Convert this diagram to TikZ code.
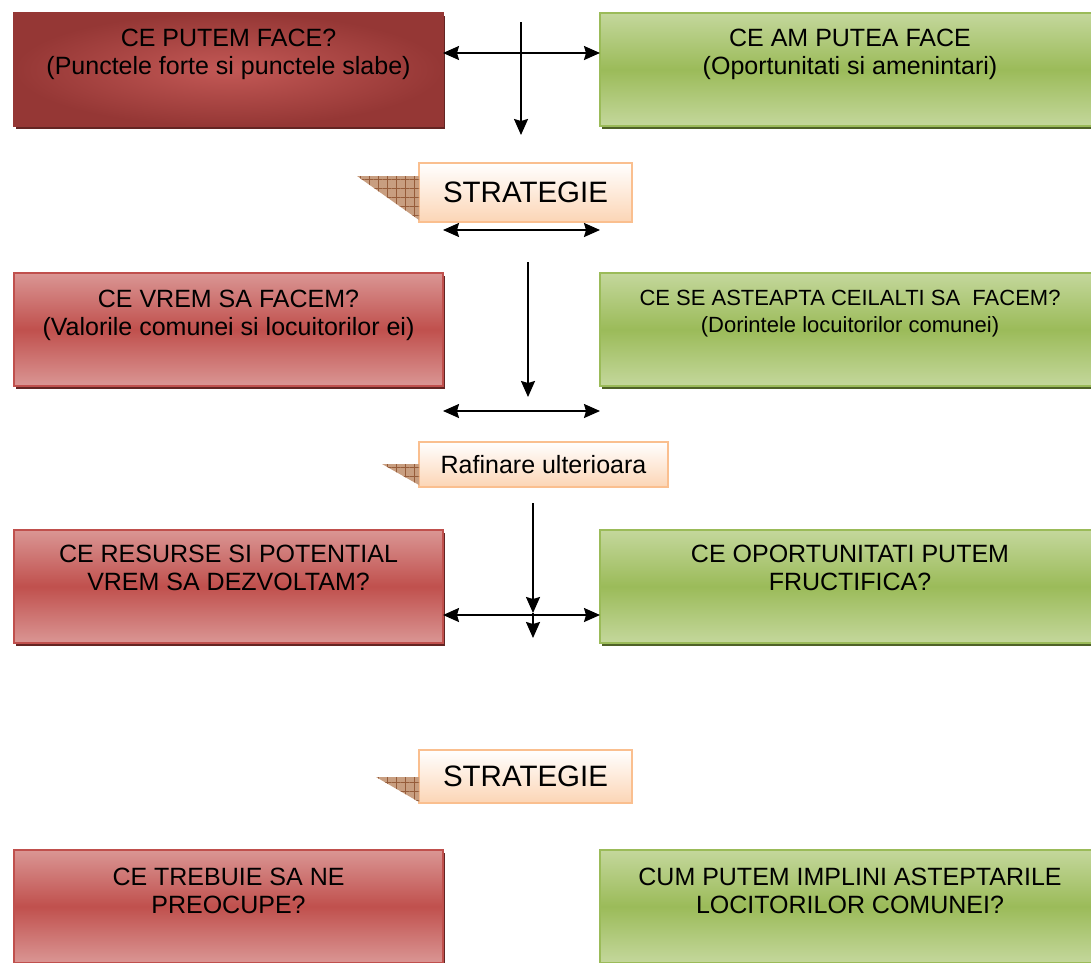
\documentclass[tikz,border=0pt]{standalone}
\usepackage{fontspec}
\setmainfont{Liberation Sans}
\usetikzlibrary{arrows.meta, positioning, calc, shadows, patterns.meta}

\definecolor{redDark}{RGB}{149,55,53}
\definecolor{redMid}{RGB}{192,80,77}
\definecolor{redLight}{RGB}{218,150,148}
\definecolor{redShadow}{RGB}{99,37,35}
\definecolor{greenMid}{RGB}{155,187,89}
\definecolor{greenLight}{RGB}{196,215,156}
\definecolor{greenShadow}{RGB}{79,98,40}
\definecolor{peachBorder}{RGB}{250,191,143}
\definecolor{peachFill}{RGB}{252,213,181}
\definecolor{tabFill}{RGB}{200,158,128}
\definecolor{tabLine}{RGB}{150,92,58}

\tikzstyle{question} = [rectangle, minimum height=113pt, inner sep=0pt, outer sep=0pt, line width=1.2pt]
\tikzstyle{redbox} = [question, minimum width=429pt, draw=redMid, top color=redLight, bottom color=redLight, middle color=redMid, drop shadow={shadow xshift=2pt, shadow yshift=-3pt, fill=redShadow, opacity=1}]
\tikzstyle{darkredbox} = [question, minimum width=429pt, draw=redDark, inner color=redMid!95!white, outer color=redDark, drop shadow={shadow xshift=2pt, shadow yshift=-3pt, fill=redShadow, opacity=1}]
\tikzstyle{greenbox} = [question, minimum width=500pt, draw=greenMid, top color=greenLight, bottom color=greenLight, middle color=greenMid, drop shadow={shadow xshift=2pt, shadow yshift=-3pt, fill=greenShadow, opacity=1}]
\tikzstyle{boxtext} = [align=center, anchor=north, inner sep=0pt, font=\fontsize{25}{28}\selectfont]
\tikzstyle{strategy} = [rectangle, draw=peachBorder, line width=1.5pt, top color=white, bottom color=peachFill, inner sep=0pt, outer sep=0pt]
\tikzstyle{tab} = [pattern={Hatch[angle=0, distance=9pt, line width=0.6pt]}, pattern color=tabLine, preaction={fill=tabFill}]
\tikzstyle{link} = [line width=1.8pt]
\tikzstyle{both} = [link, {Stealth[length=16pt, width=14pt, inset=2pt]}-{Stealth[length=16pt, width=14pt, inset=2pt]}]
\tikzstyle{down} = [link, -{Stealth[length=16pt, width=14pt, inset=2pt]}]

\begin{document}
\begin{tikzpicture}[x=1pt, y=-1pt]
    \useasboundingbox (0, 0) rectangle (1091, 962);

    % Left column.
    \node (p1) [darkredbox] at (228.5, 69.5) {};
    \node (p2) [redbox] at (228.5, 329.5) {};
    \node (p3) [redbox] at (228.5, 586.5) {};
    \node (p4) [redbox] at (228.5, 906.5) {};

    \node (p1 text) [boxtext, below=16pt of p1.north] {CE PUTEM FACE?\\(Punctele forte si punctele slabe)};
    \node (p2 text) [boxtext, below=17pt of p2.north] {CE VREM SA FACEM?\\(Valorile comunei si locuitorilor ei)};
    \node (p3 text) [boxtext, below=15pt of p3.north] {CE RESURSE SI POTENTIAL\\VREM SA DEZVOLTAM?};
    \node (p4 text) [boxtext, below=18pt of p4.north] {CE TREBUIE SA NE\\PREOCUPE?};

    % Right column.
    \node (o1) [greenbox] at (850, 69.5) {};
    \node (o2) [greenbox] at (850, 329.5) {};
    \node (o3) [greenbox] at (850, 586.5) {};
    \node (o4) [greenbox] at (850, 906.5) {};

    \node (o1 text) [boxtext, below=16pt of o1.north] {CE AM PUTEA FACE\\(Oportunitati si amenintari)};
    \node (o2 text) [boxtext, below=17pt of o2.north, font=\fontsize{22}{27}\selectfont] {CE SE ASTEAPTA CEILALTI SA\ \ FACEM?\\(Dorintele locuitorilor comunei)};
    \node (o3 text) [boxtext, below=15pt of o3.north] {CE OPORTUNITATI PUTEM\\FRUCTIFICA?};
    \node (o4 text) [boxtext, below=18pt of o4.north] {CUM PUTEM IMPLINI ASTEPTARILE\\LOCITORILOR COMUNEI?};

    % Strategy steps.
    \node (s1) [strategy, minimum width=213pt, minimum height=59pt, font=\fontsize{29.5}{32}\selectfont] at (525.5, 192.5) {STRATEGIE};
    \node (s2) [strategy, minimum width=249pt, minimum height=45pt, font=\fontsize{25}{28}\selectfont] at (543.5, 464.5) {Rafinare ulterioara};
    \node (s3) [strategy, minimum width=213pt, minimum height=53pt, font=\fontsize{29.5}{32}\selectfont] at (525.5, 776.5) {STRATEGIE};

    \fill [tab] ($(s1.north west)+(-62, 13)$) -- ($(s1.north west)+(0, 13)$) -- ($(s1.south west)+(0, -2)$) -- cycle;
    \fill [tab] ($(s2.north west)+(-37, 22)$) -- ($(s2.north west)+(0, 22)$) -- ($(s2.south west)+(0, -2)$) -- cycle;
    \fill [tab] ($(s3.north west)+(-43, 27)$) -- ($(s3.north west)+(0, 27)$) -- ($(s3.south west)+(0, -1)$) -- cycle;

    % Horizontal links.
    \foreach \y [count=\i] in {53, 230, 411, 615} {
        \coordinate (h\i) at (0, \y);
        \draw [both] (p1.east |- h\i) -- (o1.west |- h\i);
    }

    % Vertical links.
    \coordinate (v1 start) at (521, 22);
    \coordinate (v1 end) at (521, 135);
    \coordinate (v2 start) at (528, 262);
    \coordinate (v2 end) at (528, 397);
    \coordinate (v3 start) at (533, 503);
    \coordinate (v3 mid) at (533, 613);
    \coordinate (v3 end) at (533, 638);

    \draw [down] (v1 start) -- (v1 end);
    \draw [down] (v2 start) -- (v2 end);
    \draw [down] (v3 start) -- (v3 mid);
    \draw [down] (v3 mid) -- (v3 end);
\end{tikzpicture}
\end{document}
